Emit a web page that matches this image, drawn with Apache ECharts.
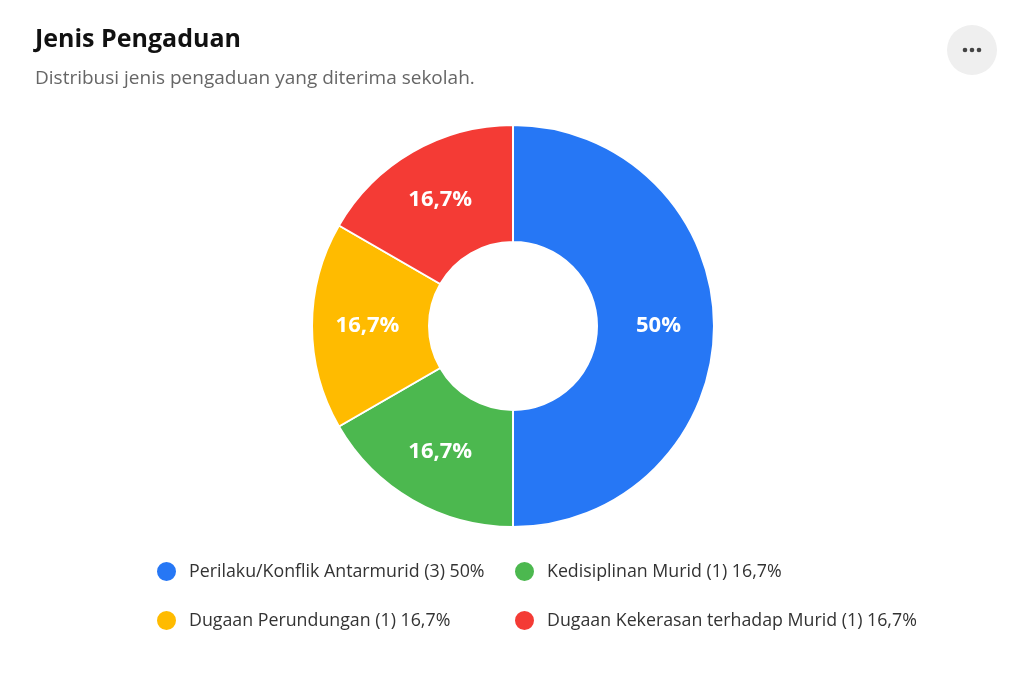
<!DOCTYPE html>
<html>
<head>
<meta charset="utf-8">
<title>Jenis Pengaduan</title>
<script src="https://cdn.jsdelivr.net/npm/echarts@6/dist/echarts.min.js"></script>
<style>
  html, body { margin: 0; padding: 0; background: #fff; }
  #chart { width: 1024px; height: 682px; }
</style>
</head>
<body>
<div id="chart"></div>
<script>
// data pengaduan
var categories = ['Perilaku/Konflik Antarmurid', 'Kedisiplinan Murid', 'Dugaan Perundungan', 'Dugaan Kekerasan terhadap Murid'];
var counts = [3, 1, 1, 1];
var colors = ['#2677F5', '#4CB84F', '#FFBB00', '#F43B35'];

var total = counts.reduce(function(a, b) { return a + b; }, 0);

// 16.666 -> "16,7%", 50 -> "50%"
function pct(v) {
    var p = Math.round(v / total * 1000) / 10;
    return String(p).replace('.', ',') + '%';
}

var pieData = categories.map(function(name, i) {
    return { name: name, value: counts[i], itemStyle: { color: colors[i] } };
});

var legendText = function(name) {
    var i = categories.indexOf(name);
    return name + ' (' + counts[i] + ') ' + pct(counts[i]);
};

var font = '"Open Sans", "Noto Sans", sans-serif';
var chart = echarts.init(document.getElementById('chart'));

var legendBase = {
    orient: 'vertical',
    icon: 'circle',
    itemWidth: 21,
    itemHeight: 21,
    itemGap: 26,
    top: 555,
    formatter: legendText,
    textStyle: { fontFamily: font, fontSize: 17.8, color: '#333', padding: [0, 0, 0, 7] }
};

chart.setOption({
    backgroundColor: '#fff',
    title: {
        text: 'Jenis Pengaduan',
        subtext: 'Distribusi jenis pengaduan yang diterima sekolah.',
        left: 30,
        top: 22,
        itemGap: 17,
        textStyle: { fontFamily: font, fontSize: 25, fontWeight: 'bold', color: '#111' },
        subtextStyle: { fontFamily: font, fontSize: 19, color: '#666' }
    },
    legend: [
        Object.assign({}, legendBase, { left: 150, data: [categories[0], categories[2]] }),
        Object.assign({}, legendBase, { left: 508, data: [categories[1], categories[3]] })
    ],
    graphic: [
        { type: 'circle', shape: { cx: 972, cy: 50, r: 25 }, style: { fill: '#efefef' } },
        { type: 'circle', shape: { cx: 965, cy: 50, r: 2.3 }, style: { fill: '#444' } },
        { type: 'circle', shape: { cx: 972, cy: 50, r: 2.3 }, style: { fill: '#444' } },
        { type: 'circle', shape: { cx: 979, cy: 50, r: 2.3 }, style: { fill: '#444' } }
    ],
    series: [{
        type: 'pie',
        center: [513, 326],
        radius: [84, 201],
        startAngle: 90,
        clockwise: true,
        avoidLabelOverlap: false,
        itemStyle: { borderColor: '#fff', borderWidth: 2 },
        label: {
            show: true,
            position: 'inside',
            formatter: function(p) { return pct(p.value); },
            fontFamily: font,
            fontSize: 22,
            fontWeight: 'bold',
            color: '#fff'
        },
        labelLine: { show: false },
        emphasis: { scale: false },
        data: pieData
    }]
});
</script>
</body>
</html>
